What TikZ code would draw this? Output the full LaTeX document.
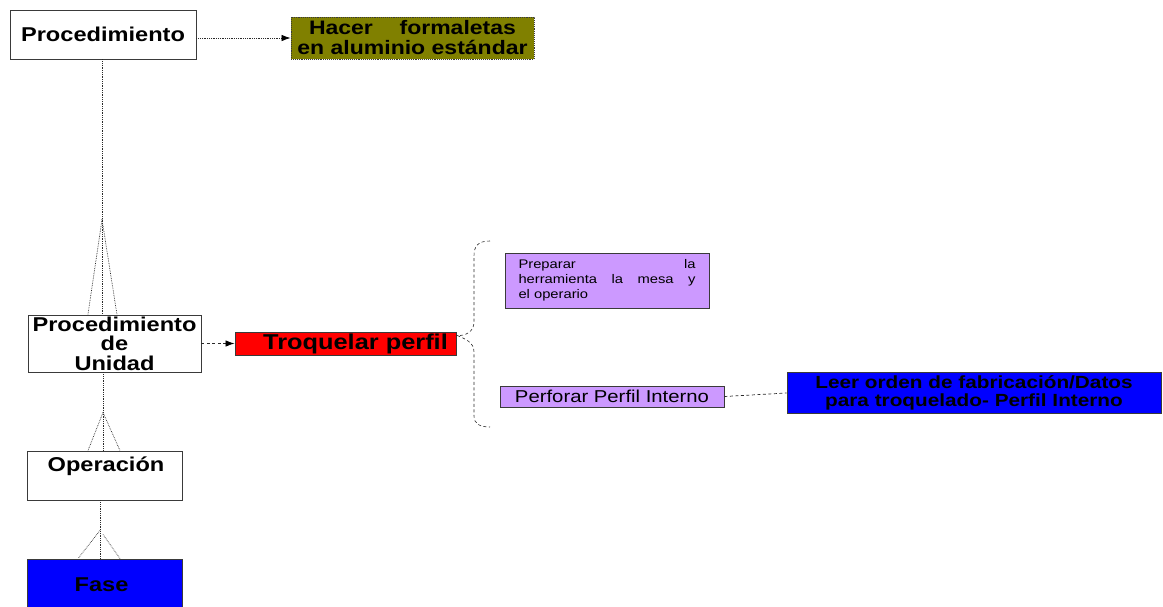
\documentclass[tikz,border=0pt]{standalone}
\usepackage{fontspec}
\setmainfont{Liberation Sans}[FakeStretch=1.18]
\usetikzlibrary{arrows.meta,calc}
\definecolor{olivebox}{HTML}{808000}
\definecolor{redbox}{HTML}{FF0000}
\definecolor{lilac}{HTML}{CC99FF}
\definecolor{bluebox}{HTML}{0000FF}
\definecolor{edge}{HTML}{3A3A3A}
\definecolor{link}{HTML}{2A2A2A}

\tikzset{
  box/.style={draw=edge, line width=0.9pt, inner sep=0pt, align=center},
  headfont/.style={font=\fontsize{20}{19.5}\selectfont\bfseries},
  hier/.style={draw=link, line width=0.8pt, densely dotted},
  foot/.style={draw=link, line width=0.7pt, densely dotted},
  dashlink/.style={draw=link, line width=0.7pt, dash pattern=on 3pt off 2.5pt},
  tip/.style={draw=black, line width=0.8pt, solid, -{Latex[length=9pt,width=6.5pt]}}
}

\begin{document}
\begin{tikzpicture}[x=1pt,y=-1pt]
\useasboundingbox (0,0) rectangle (1163,606);

% boxes of the hierarchy
\node[box, fill=white, minimum width=186pt, minimum height=49pt, headfont] (proc) at (103,34.5) {Procedimiento};
\node[box, fill=olivebox, densely dotted, minimum width=243pt, minimum height=42pt,
      font=\fontsize{19.5}{20}\selectfont\bfseries] (hacer) at (412.5,38)
      {\makebox[207pt][s]{Hacer formaletas}\\en aluminio estándar};
\node[box, fill=white, minimum width=173pt, minimum height=57pt, headfont] (pu) at (114.5,343.5)
      {Procedimiento\\de\\Unidad};
\node[box, fill=white, minimum width=155pt, minimum height=49pt] (op) at (104.5,475.5) {};
\node[headfont, inner sep=0pt] (optext) at (106,466) {Operación};
\node[box, fill=bluebox, minimum width=155pt, minimum height=56pt] (fase) at (104.5,587) {};
\node[headfont, inner sep=0pt] (fasetext) at (101.5,585) {Fase};

% operation and its phases
\node[box, fill=redbox, minimum width=221pt, minimum height=23pt,
      font=\fontsize{21.5}{22}\selectfont\bfseries] (troq) at (345.5,343.5) {\hspace{20pt}Troquelar perfil};
\node[box, fill=lilac, minimum width=204pt, minimum height=55pt,
      font=\fontsize{12.5}{15}\selectfont, align=left] (prep) at (607,280.5)
      {\makebox[177pt][s]{Preparar la}\\\makebox[177pt][s]{herramienta la mesa y}\\\makebox[177pt][l]{el operario}};
\node[box, fill=lilac, minimum width=224pt, minimum height=21pt,
      font=\fontsize{17.2}{17}\selectfont] (perf) at (612,396.5) {Perforar Perfil Interno};
\node[box, fill=bluebox, minimum width=374pt, minimum height=41pt,
      font=\fontsize{17.6}{18}\selectfont\bfseries] (leer) at (974,392.5)
      {Leer orden de fabricación/Datos\\para troquelado- Perfil Interno};

% procedure -> description
\draw[hier] (proc.east |- hacer.west) -- ($(hacer.west)+(-8,0)$);
\draw[tip] ($(hacer.west)+(-9,0)$) -- (hacer.west);

% one-to-many links between levels
\coordinate (a1) at ($(proc.south)+(-1,0)$);
\draw[hier] (a1) -- (a1 |- pu.north);
\draw[foot] ($(a1)+(0,160)$) -- ($(a1 |- pu.north)+(-14,0)$);
\draw[foot] ($(a1)+(0,160)$) -- ($(a1 |- pu.north)+(15,0)$);

\coordinate (a2) at ($(pu.south)+(-11.5,0)$);
\draw[hier] (a2) -- (a2 |- op.north);
\draw[foot] ($(a2)+(0,40)$) -- ($(a2 |- op.north)+(-15,0)$);
\draw[foot] ($(a2)+(0,40)$) -- ($(a2 |- op.north)+(17,0)$);

\coordinate (a3) at ($(op.south)+(-4.5,0)$);
\draw[hier] (a3) -- (a3 |- fase.north);
\draw[foot] ($(a3)+(0,30)$) -- ($(a3 |- fase.north)+(-22,0)$);
\draw[foot] ($(a3)+(3,34)$) -- ($(a3 |- fase.north)+(20,0)$);

% unit procedure -> operation
\draw[dashlink] (pu.east |- troq.west) -- ($(troq.west)+(-8,0)$);
\draw[tip] ($(troq.west)+(-9,0)$) -- (troq.west);

% brace grouping the phases
\coordinate (bt) at (490,241);
\coordinate (bb) at (490,427);
\draw[dashlink, line width=0.6pt] (bt) .. controls (478,241) and (474,246) .. (474,256)
   -- (474,322) .. controls (474,332) and (465,336) .. ($(troq.east)+(1,-8)$)
   .. controls (465,339) and (474,342) .. (474,352)
   -- (474,416) .. controls (474,424) and (480,427) .. (bb);

% phase -> step
\draw[dashlink] (perf.east) -- (leer.west |- 0,393);
\end{tikzpicture}
\end{document}
